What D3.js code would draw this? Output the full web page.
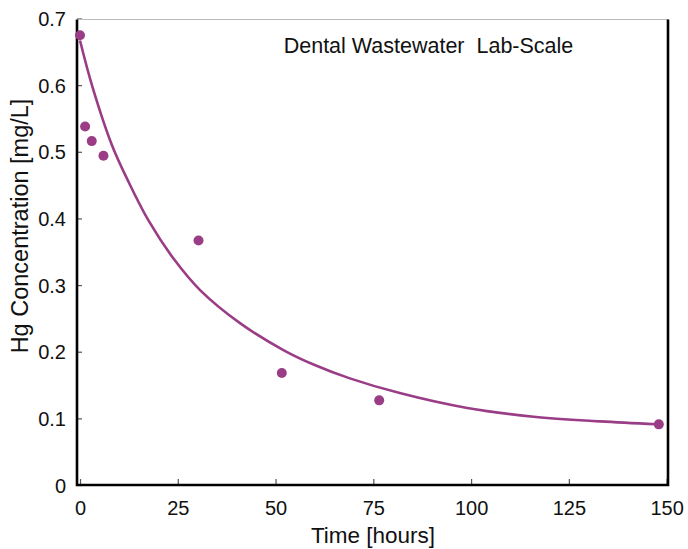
<!DOCTYPE html>
<html lang="en">
<head>
    <meta charset="UTF-8">
    <title>Dental Wastewater Lab-Scale</title>
    <script src="https://cdn.jsdelivr.net/npm/d3@7"></script>
    <style>
        body{margin: 0; background: #fff}
        svg text{font-family: "Liberation Sans", Arial, Helvetica, sans-serif; fill: #111}
        .dot{fill: #9a3d86}
        .fit{fill: none; stroke: #9a3d86; stroke-width: 2.6}
    </style>
</head>
<body>
    <svg></svg>
    <script>
        // measured points
        var timeHours = [0, 1.3, 3, 6, 30.3, 51.6, 76.5, 148]
        var hgConc = [0.675, 0.538, 0.516, 0.494, 0.367, 0.168, 0.127, 0.091]

        // fitted curve
        var fitTime = [0, 3.2, 8.2, 12.4, 17.5, 24, 30.7, 41, 52, 60, 69, 82, 99, 116, 133, 147.5]
        var fitConc = [0.667, 0.597, 0.5095, 0.455, 0.397, 0.339, 0.2925, 0.2425, 0.2025, 0.18, 0.16, 0.1375, 0.1155, 0.1025, 0.0955, 0.0912]

        var xTicks = [0, 25, 50, 75, 100, 125, 150]
        var yTicks = [0, 0.1, 0.2, 0.3, 0.4, 0.5, 0.6, 0.7]
        var yTickLabels = ['0', '0.1', '0.2', '0.3', '0.4', '0.5', '0.6', '0.7']

        var title = 'Dental Wastewater\u00a0\u00a0Lab-Scale'
        var xTitle = 'Time [hours]'
        var yTitle = 'Hg Concentration [mg/L]'

        function render() {
            var width = 688, height = 549
            var plot = {left: 77, right: 668, top: 19.5, bottom: 485}

            var svg = d3.select('svg')
                .html('')
                .attr('width', width)
                .attr('height', height)

            var xScale = d3.scaleLinear()
                .domain([-0.77, 150.35])
                .range([plot.left, plot.right])
            var yScale = d3.scaleLinear()
                .domain([0, 0.7])
                .range([plot.bottom, 18.5])

            // axes (ticks point inward)
            var xAxis = d3.axisBottom(xScale)
                .tickValues(xTicks)
                .tickSizeInner(-6)
                .tickSizeOuter(0)
                .tickPadding(0)
            var yAxis = d3.axisLeft(yScale)
                .tickValues(yTicks)
                .tickFormat((d, i) => yTickLabels[i])
                .tickSizeInner(-5)
                .tickSizeOuter(0)
                .tickPadding(11)

            var gx = svg.append('g')
                .attr('transform', `translate(0, ${plot.bottom})`)
                .call(xAxis)
            gx.select('.domain').remove()
            gx.selectAll('.tick line').attr('stroke', '#555').attr('stroke-width', 1.2)
            gx.selectAll('.tick text')
                .attr('dy', null)
                .attr('y', 30)
                .attr('font-size', 20)
                .attr('fill', '#111')

            var gy = svg.append('g')
                .attr('transform', `translate(${plot.left}, 0)`)
                .call(yAxis)
            gy.select('.domain').remove()
            gy.selectAll('.tick line').attr('stroke', '#555').attr('stroke-width', 1.2)
            gy.selectAll('.tick text')
                .attr('dy', '0.36em')
                .attr('font-size', 20)
                .attr('fill', '#111')

            // frame
            svg.append('line')
                .attr('x1', plot.left).attr('x2', plot.right)
                .attr('y1', plot.top).attr('y2', plot.top)
                .attr('stroke', '#bbb').attr('stroke-width', 1.2)
            svg.append('path')
                .attr('d', `M${plot.left},${plot.top}V${plot.bottom}H${plot.right}V${plot.top}`)
                .attr('fill', 'none')
                .attr('stroke', '#000')
                .attr('stroke-width', 2.6)

            // fitted curve
            var line = d3.line()
                .x((d, i) => xScale(fitTime[i]))
                .y(d => yScale(d))
                .curve(d3.curveCatmullRom.alpha(0.5))
            svg.append('path')
                .datum(fitConc)
                .attr('class', 'fit')
                .attr('d', line)

            // points
            svg.selectAll('.dot')
                .data(hgConc)
                .enter()
                .append('circle')
                .attr('class', 'dot')
                .attr('cx', (d, i) => xScale(timeHours[i]))
                .attr('cy', d => yScale(d))
                .attr('r', 5)

            // texts
            svg.append('text')
                .attr('x', 428.5)
                .attr('y', 52.5)
                .attr('text-anchor', 'middle')
                .attr('font-size', 21.5)
                .text(title)
            svg.append('text')
                .attr('x', 373)
                .attr('y', 543)
                .attr('text-anchor', 'middle')
                .attr('font-size', 22.5)
                .text(xTitle)
            svg.append('text')
                .attr('transform', 'translate(28, 226) rotate(-90)')
                .attr('text-anchor', 'middle')
                .attr('font-size', 23.5)
                .text(yTitle)
        }

        render()
    </script>
</body>
</html>
